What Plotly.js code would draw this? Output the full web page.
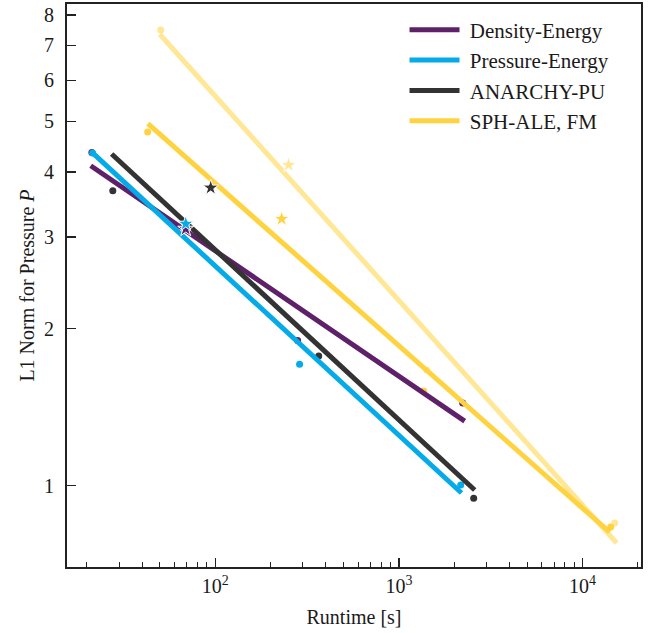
<!DOCTYPE html>
<html>
<head>
<meta charset="utf-8">
<script src="https://cdn.plot.ly/plotly-3.0.1.min.js"></script>
<style>html,body{margin:0;padding:0;background:#fff}#chart{width:654px;height:633px}</style>
</head>
<body>
<div id="chart"></div>
<script>
// Scheme names and colours
const schemeNames = ["Density-Energy", "Pressure-Energy", "ANARCHY-PU", "SPH-ALE, FM", "SPH-ALE (variant)"];
const schemeColors = ["#5e2169", "#05aae9", "#333333", "#ffd33f", "rgba(255,211,63,0.55)"];

// Measured runtimes [s] and L1 norms (4 resolutions; 2nd point is the starred one)
const runtimeDE = [21.3, 69.1, 281, 2225];
const normDE    = [4.36, 3.11, 1.90, 1.44];
const runtimePE = [21.5, 69.1, 288, 2170];
const normPE    = [4.35, 3.18, 1.71, 1.003];
const runtimeAPU = [27.7, 94.5, 366, 2554];
const normAPU    = [3.68, 3.73, 1.774, 0.946];
const runtimeFM = [42.9, 230, 1365, 14223];
const normFM    = [4.77, 3.25, 1.52, 0.833];
const runtimeFM2 = [50.5, 251, 1417, 14960];
const normFM2    = [7.49, 4.125, 1.667, 0.848];

// Fitted power-law lines (end points)
const fitXDE = [21.0, 2281];   const fitYDE = [4.11, 1.33];
const fitXPE = [21.5, 2192];   const fitYPE = [4.35, 0.968];
const fitXAPU = [27.3, 2586];  const fitYAPU = [4.33, 0.981];
const fitXFM = [43.0, 14045];  const fitYFM = [4.95, 0.814];
const fitXFM2 = [49.9, 15330]; const fitYFM2 = [7.35, 0.776];

// Axis ticks
const xTickVals = [100, 1000, 10000];
const xTickText = ["10<sup>2</sup>", "10<sup>3</sup>", "10<sup>4</sup>"];
const xMinorVals = [20,30,40,50,60,70,80,90,200,300,400,500,600,700,800,900,2000,3000,4000,5000,6000,7000,8000,9000,20000];
const yTickVals = [1, 2, 3, 4, 5, 6, 7, 8];
const yTickText = ["1", "2", "3", "4", "5", "6", "7", "8"];

const runtimes = [runtimeDE, runtimePE, runtimeAPU, runtimeFM, runtimeFM2];
const norms = [normDE, normPE, normAPU, normFM, normFM2];
const fitXs = [fitXDE, fitXPE, fitXAPU, fitXFM, fitXFM2];
const fitYs = [fitYDE, fitYPE, fitYAPU, fitYFM, fitYFM2];

const traces = [];
// dots (non-starred points)
for (let i = 0; i < 5; i++) {
  const xs = runtimes[i].filter((v, k) => k !== 1);
  const ys = norms[i].filter((v, k) => k !== 1);
  traces.push({x: xs, y: ys, type: 'scatter', mode: 'markers', showlegend: false,
    marker: {symbol: 'circle', size: 7, color: schemeColors[i], line: {width: 0}}});
}
// fit lines
const lineOrder = [4, 0, 1, 2, 3];
lineOrder.forEach(i => {
  traces.push({x: fitXs[i], y: fitYs[i], type: 'scatter', mode: 'lines',
    name: '\u00a0' + schemeNames[i], showlegend: i < 4, legendrank: i + 1, legendgroup: 'g' + i,
    line: {color: schemeColors[i], width: 5}});
});
// starred points
for (let i = 0; i < 5; i++) {
  traces.push({x: [runtimes[i][1]], y: [norms[i][1]], type: 'scatter', mode: 'markers', showlegend: false,
    marker: {symbol: 'star', size: 12, color: schemeColors[i], line: {width: 1, color: '#ffffff'}}});
}

const fam = '"Liberation Serif", "DejaVu Serif", serif';
const txt = '#1a1a1a';

const layout = {
  width: 654, height: 633,
  margin: {l: 67, r: 12.5, t: 4, b: 66},
  paper_bgcolor: '#fff', plot_bgcolor: '#fff',
  font: {family: fam, color: txt, size: 19},
  showlegend: true,
  legend: {x: 0.588, y: 0.990, xanchor: 'left', yanchor: 'top', bgcolor: 'rgba(0,0,0,0)',
    font: {family: fam, size: 21, color: txt}, tracegroupgap: 0, itemwidth: 50},
  xaxis: {
    type: 'log', range: [Math.log10(15.6), Math.log10(20800)],
    showgrid: false, zeroline: false,
    showline: true, linecolor: '#222', linewidth: 2, mirror: true,
    ticks: 'inside', ticklen: 9, tickwidth: 1.3, tickcolor: '#222',
    tickmode: 'array', tickvals: xTickVals, ticktext: xTickText,
    tickfont: {family: fam, size: 20, color: txt},
    minor: {ticks: 'inside', ticklen: 5, tickwidth: 1.1, tickcolor: '#222', tickvals: xMinorVals, showgrid: false},
    title: {text: 'Runtime [s]', font: {family: fam, size: 20, color: txt}, standoff: 14}
  },
  yaxis: {
    type: 'log', range: [Math.log10(0.698), Math.log10(8.40)],
    showgrid: false, zeroline: false,
    showline: true, linecolor: '#222', linewidth: 2, mirror: true,
    ticks: 'inside', ticklen: 9, tickwidth: 1.3, tickcolor: '#222',
    tickmode: 'array', tickvals: yTickVals, ticktext: yTickText,
    ticklabelstandoff: 7,
    tickfont: {family: fam, size: 20, color: txt},
    title: {text: 'L1 Norm for Pressure <i>P</i>', font: {family: fam, size: 20, color: txt}, standoff: 4}
  }
};

Plotly.newPlot('chart', traces, layout, {displayModeBar: false, staticPlot: true});
</script>
</body>
</html>
